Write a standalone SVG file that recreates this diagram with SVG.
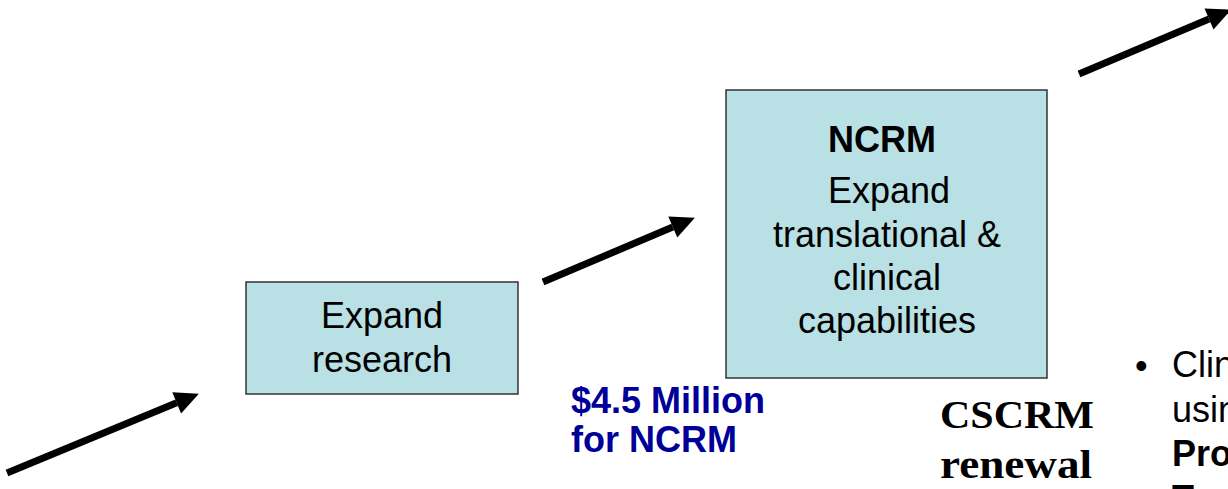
<svg xmlns="http://www.w3.org/2000/svg" width="1228" height="489" viewBox="0 0 1228 489">
<style>
.box{fill:#b9e0e4;stroke:#333;stroke-width:1.5}
.t{font-family:"Liberation Sans",Arial,sans-serif;font-size:36px;fill:#000}
.c{text-anchor:middle}
.b{font-weight:bold}
.blue{fill:#000099;font-weight:bold;font-family:"Liberation Sans",Arial,sans-serif;font-size:36px}
.serif{font-family:"Liberation Serif","Times New Roman",serif;font-weight:bold;font-size:40px;fill:#000}
.arr{stroke:#000;stroke-width:7;fill:none;marker-end:url(#ah)}
</style>
<defs>
<marker id="ah" markerUnits="userSpaceOnUse" markerWidth="24" markerHeight="24" viewBox="0 -11 23 22" refX="0" refY="0" orient="auto" overflow="visible">
<path d="M0,-11 L23,0 L0,11 z" fill="#000"/>
</marker>
</defs>
<g id="connectors">
<line class="arr" x1="7" y1="473" x2="176.7" y2="402.8"/>
<line class="arr" x1="543" y1="282" x2="672.8" y2="227"/>
<line class="arr" x1="1079" y1="74" x2="1209" y2="19"/>
</g>
<g id="node-research">
<rect class="box" x="246" y="282" width="272" height="112"/>
<text class="t c" x="382" y="328">Expand</text>
<text class="t c" x="382" y="372">research</text>
</g>
<g id="node-ncrm">
<rect class="box" x="726" y="90" width="321" height="288"/>
<text class="t c b" x="882" y="152">NCRM</text>
<text class="t c" x="889" y="203">Expand</text>
<text class="t c" x="887" y="247">translational &amp;</text>
<text class="t c" x="887" y="290">clinical</text>
<text class="t c" x="887" y="333">capabilities</text>
</g>
<g id="label-funding">
<text class="blue" x="571" y="413">$4.5 Million</text>
<text class="blue" x="571" y="452">for NCRM</text>
</g>
<g id="label-cscrm">
<text class="serif" x="940" y="428" textLength="154" lengthAdjust="spacingAndGlyphs">CSCRM</text>
<text class="serif" x="940" y="478" textLength="152" lengthAdjust="spacingAndGlyphs">renewal</text>
</g>
<g id="bullet-text">
<text class="t" x="1135" y="378">•</text>
<text class="t" x="1172" y="377">Clin</text>
<text class="t" x="1172" y="422">usin</text>
<text class="t b" x="1172" y="466">Pro</text>
<text class="t b" x="1172" y="511">T</text>
</g>
</svg>
